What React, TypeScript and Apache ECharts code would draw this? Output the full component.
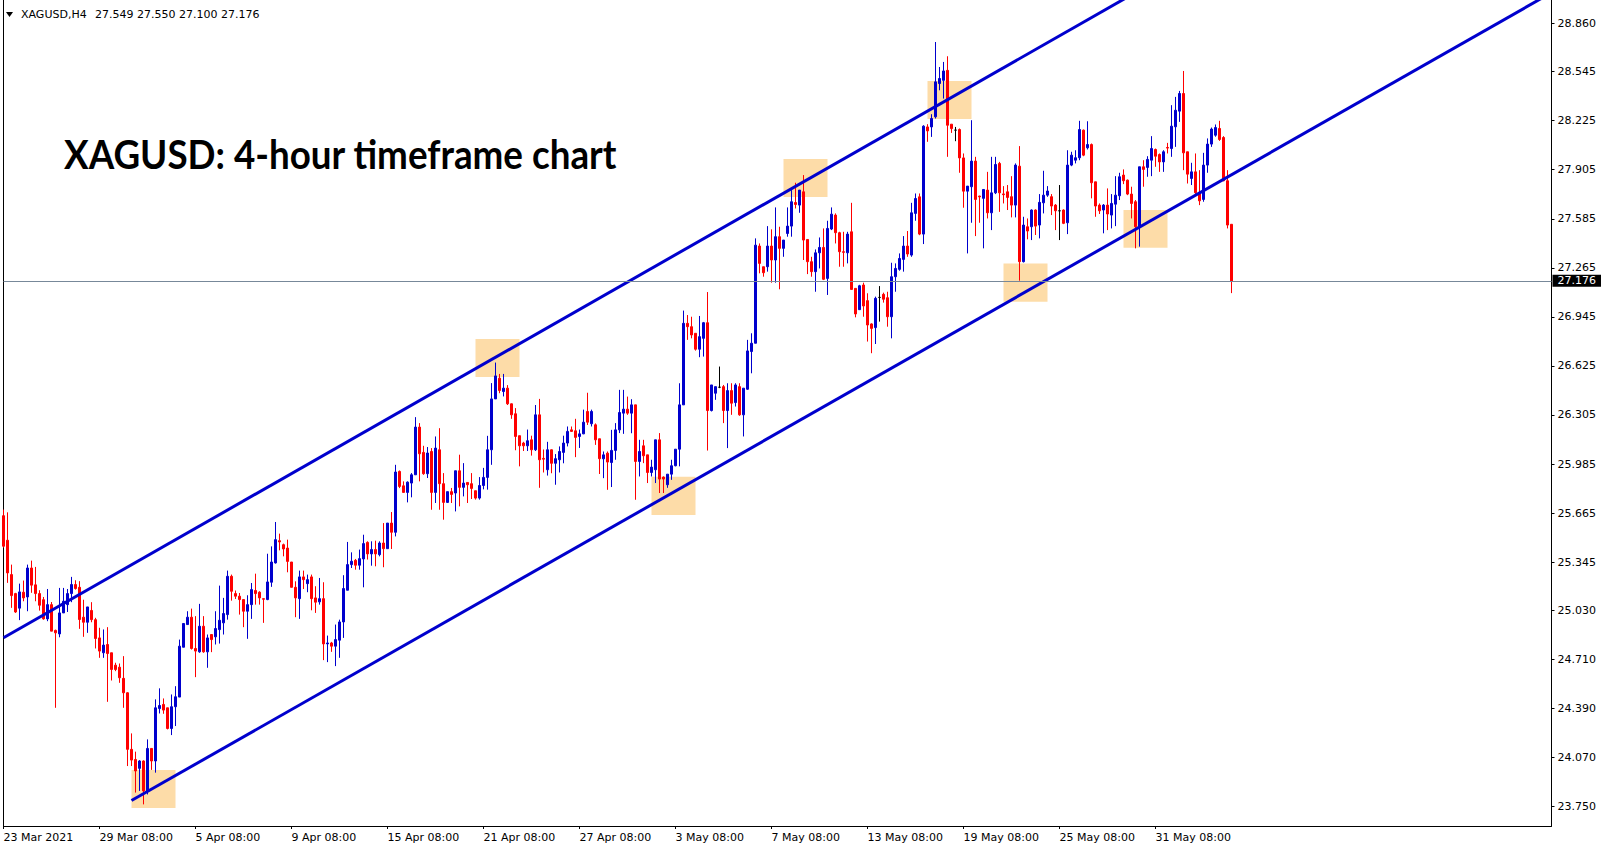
import React, { useEffect, useRef } from 'react';
import * as echarts from 'echarts';

const symbol = 'XAGUSD';
const timeframe = 'H4';
const chartTitle = 'XAGUSD: 4-hour timeframe chart';

// x-axis tick labels, one every 24 four-hour bars
const xLabels = [
  '23 Mar 2021', '29 Mar 08:00', '5 Apr 08:00', '9 Apr 08:00', '15 Apr 08:00',
  '21 Apr 08:00', '27 Apr 08:00', '3 May 08:00', '7 May 08:00', '13 May 08:00',
  '19 May 08:00', '25 May 08:00', '31 May 08:00',
];
const barsPerLabel = 24;
const totalSlots = 388;

// price-scale tick labels
const yTicks = [
  23.75, 24.07, 24.39, 24.71, 25.03, 25.345, 25.665, 25.985, 26.305,
  26.625, 26.945, 27.265, 27.585, 27.905, 28.225, 28.545, 28.86,
];
const yMin = 23.624;
const yMax = 29.012;

const open = [
  25.648, 25.488, 25.264, 25.14, 25.045, 25.149, 25.118, 25.307, 25.197, 25.14,
  25.1, 24.975, 25.068, 24.9, 24.877, 25.014, 25.068, 25.14, 25.199, 25.181,
  24.986, 24.953, 25.03, 24.97, 24.851, 24.754, 24.808, 24.754, 24.673, 24.66,
  24.587, 24.493, 24.124, 24.058, 24.0, 24.048, 23.853, 24.13, 24.048, 24.39,
  24.417, 24.395, 24.26, 24.402, 24.465, 24.79, 24.938, 24.986, 24.782, 24.76,
  24.927, 24.76, 24.873, 24.858, 24.905, 24.949, 25.003, 25.253, 25.14, 25.123,
  25.101, 25.025, 25.068, 25.16, 25.149, 25.107, 25.101, 25.214, 25.34, 25.485,
  25.459, 25.437, 25.346, 25.181, 25.107, 25.249, 25.205, 25.249, 25.112, 25.086,
  25.107, 24.812, 24.818, 24.797, 24.836, 24.955, 25.162, 25.329, 25.357, 25.325,
  25.366, 25.474, 25.399, 25.427, 25.394, 25.47, 25.433, 25.6, 25.54, 25.937,
  25.843, 25.8, 25.861, 25.915, 26.226, 26.061, 25.922, 26.067, 25.8, 26.078,
  25.857, 25.735, 25.805, 25.796, 25.941, 25.833, 25.865, 25.857, 25.811, 25.763,
  25.845, 25.898, 26.078, 26.41, 26.545, 26.458, 26.48, 26.378, 26.313, 26.17,
  26.122, 26.104, 26.143, 26.078, 26.306, 26.022, 25.948, 26.078, 25.99, 26.013,
  26.061, 26.122, 26.208, 26.202, 26.165, 26.182, 26.328, 26.248, 26.241, 26.15,
  26.019, 26.056, 25.995, 26.074, 26.208, 26.317, 26.343, 26.317, 26.371, 26.002,
  26.104, 26.045, 25.93, 25.948, 26.143, 25.9, 25.85, 25.919, 25.974, 26.082,
  26.371, 26.903, 26.881, 26.838, 26.734, 26.805, 26.907, 26.334, 26.447, 26.486,
  26.49, 26.334, 26.464, 26.386, 26.49, 26.306, 26.473, 26.719, 26.773, 27.407,
  27.272, 27.272, 27.407, 27.316, 27.468, 27.392, 27.489, 27.537, 27.691, 27.674,
  27.761, 27.45, 27.305, 27.24, 27.363, 27.398, 27.196, 27.518, 27.609, 27.494,
  27.37, 27.363, 27.5, 27.131, 26.992, 27.153, 27.051, 26.899, 26.875, 27.072,
  27.092, 27.07, 26.946, 27.207, 27.255, 27.32, 27.407, 27.348, 27.62, 27.728,
  27.485, 28.184, 28.184, 28.25, 28.467, 28.488, 28.553, 28.202, 28.163, 28.167,
  27.982, 27.765, 27.794, 27.961, 27.733, 27.718, 27.772, 27.624, 27.754, 27.946,
  27.747, 27.761, 27.729, 27.674, 27.928, 27.305, 27.533, 27.533, 27.642, 27.544,
  27.689, 27.739, 27.729, 27.674, 27.637, 27.642, 27.559, 27.935, 27.967, 27.983,
  28.163, 28.048, 28.069, 27.826, 27.674, 27.642, 27.674, 27.609, 27.68, 27.735,
  27.87, 27.837, 27.746, 27.696, 27.533, 27.924, 27.92, 27.967, 28.037, 28.004,
  27.956, 28.05, 28.043, 28.185, 28.287, 28.402, 28.022, 27.848, 27.891, 27.755,
  27.711, 27.935, 28.072, 28.13, 28.174, 28.115, 27.833, 27.549,
];
const high = [
  25.688, 25.67, 25.329, 25.145, 25.205, 25.225, 25.329, 25.355, 25.314, 25.162,
  25.118, 25.17, 25.085, 24.905, 25.177, 25.177, 25.17, 25.249, 25.227, 25.221,
  25.1, 25.053, 25.084, 24.982, 24.917, 24.906, 24.921, 24.754, 24.689, 24.684,
  24.732, 24.497, 24.228, 24.109, 24.054, 24.052, 24.189, 24.13, 24.45, 24.522,
  24.456, 24.395, 24.482, 24.536, 24.84, 24.945, 25.025, 25.042, 24.993, 25.073,
  24.993, 24.873, 24.873, 25.025, 25.192, 25.112, 25.29, 25.264, 25.16, 25.144,
  25.101, 25.129, 25.209, 25.27, 25.155, 25.107, 25.4, 25.448, 25.607, 25.531,
  25.466, 25.492, 25.346, 25.22, 25.29, 25.29, 25.264, 25.264, 25.188, 25.242,
  25.214, 24.866, 24.825, 24.938, 24.97, 25.26, 25.477, 25.409, 25.366, 25.427,
  25.524, 25.481, 25.481, 25.485, 25.481, 25.6, 25.6, 25.672, 25.98, 25.943,
  25.872, 25.872, 25.926, 26.291, 26.252, 26.104, 26.096, 26.089, 26.165, 26.219,
  25.926, 25.805, 25.829, 25.941, 26.046, 25.991, 25.865, 25.926, 25.811, 25.9,
  25.96, 26.169, 26.513, 26.647, 26.573, 26.573, 26.5, 26.38, 26.35, 26.17,
  26.13, 26.21, 26.17, 26.37, 26.41, 26.08, 26.13, 26.08, 26.05, 26.1,
  26.17, 26.23, 26.23, 26.28, 26.21, 26.34, 26.45, 26.34, 26.25, 26.15,
  26.067, 26.067, 26.208, 26.252, 26.469, 26.469, 26.425, 26.408, 26.371, 26.143,
  26.143, 26.045, 26.013, 26.143, 26.187, 25.904, 25.919, 26.013, 26.082, 26.512,
  26.986, 26.957, 26.946, 26.838, 26.951, 26.912, 27.107, 26.501, 26.49, 26.621,
  26.501, 26.512, 26.512, 26.512, 26.512, 26.48, 26.795, 26.838, 27.457, 27.424,
  27.272, 27.537, 27.516, 27.659, 27.533, 27.446, 27.659, 27.772, 27.82, 27.772,
  27.87, 27.45, 27.337, 27.385, 27.463, 27.522, 27.572, 27.659, 27.62, 27.5,
  27.5, 27.5, 27.689, 27.131, 27.154, 27.168, 27.099, 26.903, 27.077, 27.146,
  27.103, 27.109, 27.298, 27.294, 27.359, 27.472, 27.505, 27.689, 27.75, 27.75,
  28.195, 28.202, 28.267, 28.738, 28.575, 28.608, 28.645, 28.202, 28.184, 28.174,
  28.011, 27.798, 28.228, 27.989, 27.735, 27.776, 27.891, 27.989, 27.989, 27.956,
  27.798, 27.805, 27.863, 27.946, 28.059, 27.598, 27.587, 27.646, 27.646, 27.746,
  27.898, 27.798, 27.746, 27.681, 27.805, 27.646, 28.032, 28.022, 28.032, 28.224,
  28.167, 28.221, 28.076, 27.826, 27.685, 27.681, 27.783, 27.746, 27.863, 27.885,
  27.907, 27.841, 27.794, 27.707, 27.924, 27.967, 27.993, 28.124, 28.043, 28.011,
  28.032, 28.08, 28.326, 28.38, 28.419, 28.549, 28.022, 27.95, 28.011, 27.902,
  28.015, 28.109, 28.18, 28.2, 28.224, 28.124, 27.902, 27.55,
];
const low = [
  25.44, 25.21, 25.047, 25.014, 24.967, 25.09, 25.025, 25.145, 25.09, 25.029,
  24.97, 24.96, 24.895, 24.395, 24.855, 25.014, 25.02, 25.084, 25.166, 24.91,
  24.858, 24.884, 24.953, 24.782, 24.721, 24.721, 24.434, 24.573, 24.634, 24.558,
  24.395, 24.015, 24.015, 23.842, 23.853, 23.765, 23.83, 23.99, 23.972, 24.358,
  24.356, 24.254, 24.217, 24.276, 24.465, 24.79, 24.938, 24.775, 24.595, 24.754,
  24.754, 24.656, 24.758, 24.808, 24.814, 24.873, 24.97, 25.094, 25.105, 25.003,
  24.921, 24.845, 24.975, 25.068, 25.068, 24.949, 25.097, 25.184, 25.336, 25.422,
  25.383, 25.279, 25.181, 24.986, 24.975, 25.17, 25.149, 25.031, 25.014, 25.068,
  24.706, 24.693, 24.76, 24.667, 24.721, 24.851, 25.162, 25.307, 25.296, 25.296,
  25.181, 25.362, 25.322, 25.318, 25.383, 25.312, 25.433, 25.431, 25.513, 25.828,
  25.8, 25.735, 25.768, 25.915, 25.872, 25.915, 25.894, 25.687, 25.731, 25.687,
  25.622, 25.731, 25.731, 25.676, 25.709, 25.774, 25.731, 25.757, 25.753, 25.753,
  25.82, 25.818, 25.98, 26.41, 26.447, 26.426, 26.37, 26.28, 26.075, 25.97,
  26.07, 26.07, 26.04, 26.07, 25.83, 25.93, 25.91, 25.925, 25.85, 25.93,
  25.99, 26.1, 26.195, 26.03, 26.09, 26.18, 26.24, 26.23, 26.11, 25.92,
  25.893, 25.817, 25.835, 26.013, 26.187, 26.182, 26.306, 26.186, 25.752, 25.904,
  25.991, 25.861, 25.904, 25.861, 25.796, 25.796, 25.83, 25.882, 25.97, 25.97,
  26.37, 26.795, 26.805, 26.725, 26.682, 26.686, 26.073, 26.328, 26.404, 26.48,
  26.252, 26.089, 26.306, 26.36, 26.3, 26.165, 26.469, 26.577, 26.773, 27.229,
  27.207, 27.24, 27.168, 27.168, 27.125, 27.337, 27.468, 27.468, 27.652, 27.624,
  27.316, 27.224, 27.207, 27.109, 27.261, 27.185, 27.088, 27.511, 27.424, 27.272,
  27.272, 27.294, 27.124, 26.942, 26.99, 26.946, 26.784, 26.708, 26.768, 26.914,
  27.038, 26.881, 26.805, 27.109, 27.246, 27.24, 27.337, 27.337, 27.572, 27.478,
  27.42, 28.087, 28.119, 28.239, 28.423, 28.369, 27.989, 28.145, 28.091, 27.885,
  27.657, 27.359, 27.559, 27.472, 27.559, 27.392, 27.587, 27.511, 27.746, 27.63,
  27.685, 27.642, 27.594, 27.594, 27.181, 27.3, 27.451, 27.446, 27.479, 27.457,
  27.62, 27.728, 27.609, 27.511, 27.446, 27.55, 27.485, 27.928, 27.946, 27.967,
  27.993, 28.037, 27.718, 27.598, 27.616, 27.49, 27.511, 27.522, 27.537, 27.707,
  27.811, 27.739, 27.587, 27.392, 27.403, 27.794, 27.859, 27.863, 27.924, 27.891,
  27.891, 28.011, 27.989, 28.054, 28.217, 27.902, 27.815, 27.805, 27.746, 27.674,
  27.696, 27.885, 28.054, 28.12, 28.093, 27.83, 27.522, 27.1,
];
const close = [
  25.449, 25.275, 25.127, 25.02, 25.151, 25.112, 25.307, 25.195, 25.14, 25.064,
  24.975, 25.068, 24.895, 24.884, 25.014, 25.09, 25.14, 25.199, 25.173, 24.971,
  24.953, 25.053, 24.97, 24.847, 24.765, 24.804, 24.749, 24.645, 24.645, 24.591,
  24.493, 24.124, 24.054, 23.983, 24.048, 23.853, 24.13, 24.048, 24.395, 24.41,
  24.38, 24.26, 24.402, 24.467, 24.797, 24.945, 24.986, 24.782, 24.765, 24.927,
  24.76, 24.851, 24.84, 24.912, 24.966, 25.01, 25.253, 25.155, 25.123, 25.101,
  25.025, 25.068, 25.166, 25.14, 25.112, 25.103, 25.216, 25.346, 25.492, 25.477,
  25.431, 25.35, 25.181, 25.112, 25.249, 25.231, 25.231, 25.107, 25.084, 25.107,
  24.812, 24.818, 24.797, 24.84, 24.955, 25.173, 25.329, 25.351, 25.325, 25.368,
  25.466, 25.399, 25.427, 25.399, 25.47, 25.433, 25.6, 25.54, 25.933, 25.839,
  25.8, 25.867, 25.915, 26.226, 26.052, 25.922, 26.057, 25.8, 26.089, 25.857,
  25.735, 25.805, 25.787, 25.941, 25.833, 25.861, 25.85, 25.826, 25.763, 25.845,
  25.898, 26.078, 26.41, 26.56, 26.465, 26.48, 26.378, 26.306, 26.165, 26.104,
  26.104, 26.137, 26.078, 26.306, 26.013, 26.017, 26.078, 25.99, 26.02, 26.067,
  26.122, 26.198, 26.198, 26.159, 26.182, 26.258, 26.258, 26.328, 26.143, 26.02,
  26.045, 25.998, 26.074, 26.208, 26.321, 26.343, 26.317, 26.371, 26.002, 26.067,
  26.039, 25.93, 25.965, 26.143, 25.887, 25.887, 25.919, 25.974, 26.082, 26.371,
  26.903, 26.881, 26.827, 26.734, 26.816, 26.907, 26.334, 26.501, 26.49, 26.486,
  26.334, 26.464, 26.382, 26.501, 26.306, 26.48, 26.723, 26.773, 27.413, 27.294,
  27.233, 27.407, 27.316, 27.468, 27.392, 27.446, 27.537, 27.696, 27.678, 27.772,
  27.446, 27.305, 27.24, 27.363, 27.398, 27.19, 27.522, 27.615, 27.494, 27.37,
  27.366, 27.485, 27.124, 26.964, 27.148, 27.016, 26.892, 26.87, 27.066, 27.072,
  27.06, 26.946, 27.207, 27.261, 27.326, 27.407, 27.355, 27.624, 27.717, 27.485,
  28.189, 28.158, 28.239, 28.478, 28.5, 28.549, 28.195, 28.173, 28.163, 27.982,
  27.765, 27.798, 27.961, 27.711, 27.728, 27.776, 27.624, 27.754, 27.939, 27.754,
  27.742, 27.724, 27.674, 27.935, 27.305, 27.544, 27.505, 27.642, 27.537, 27.692,
  27.739, 27.766, 27.668, 27.637, 27.637, 27.555, 27.935, 28.0, 27.983, 28.167,
  28.0, 28.069, 27.82, 27.668, 27.637, 27.674, 27.616, 27.685, 27.739, 27.859,
  27.833, 27.746, 27.685, 27.533, 27.924, 27.907, 27.972, 28.043, 27.993, 27.956,
  28.022, 28.046, 28.189, 28.293, 28.402, 28.015, 27.876, 27.891, 27.755, 27.702,
  27.935, 28.072, 28.17, 28.18, 28.102, 27.833, 27.544, 27.176,
];

// channel trend lines: [bar index, price]
const upperChannel = [[0, 24.852], [290, 29.165]];
const lowerChannel = [[32, 23.79], [387, 29.06]];

// highlighted touch zones: [fromBar, topPrice, toBar, bottomPrice]
const zones = [
  [32, 23.989, 43, 23.741],
  [118, 26.801, 129, 26.553],
  [162, 25.902, 173, 25.652],
  [195, 27.975, 206, 27.727],
  [231, 28.484, 242, 28.236],
  [250, 27.294, 261, 27.044],
  [280, 27.642, 291, 27.396],
];

const bidPrice = 27.176;

const FONT = 'DejaVu Sans';
const BLUE = '#0000CD';
const RED = '#FF0000';

export default function App() {
  const ref = useRef<HTMLDivElement>(null);

  useEffect(() => {
    if (!ref.current) return;
    const chart = echarts.init(ref.current, undefined, { renderer: 'svg' });

    const categories = Array.from({ length: totalSlots }, (_, i) => String(i));
    const candles = open.map((o, i) => [o, close[i], low[i], high[i]]);
    const last = open.length - 1;
    const showLabel = (idx: number) =>
      idx % barsPerLabel === 0 && idx / barsPerLabel < xLabels.length;

    const option = {
      animation: false,
      backgroundColor: '#ffffff',
      grid: { left: 3.5, right: 55.5, top: 0, bottom: 24 },
      xAxis: {
        type: 'category',
        data: categories,
        boundaryGap: false,
        axisLine: { show: true, onZero: false, lineStyle: { color: '#000', width: 1 } },
        axisTick: {
          show: true,
          length: 3,
          interval: (idx: number) => showLabel(idx),
          lineStyle: { color: '#000' },
        },
        axisLabel: {
          interval: (idx: number) => showLabel(idx),
          formatter: (_v: string, idx: number) =>
            showLabel(idx) ? xLabels[idx / barsPerLabel] : '',
          align: 'left',
          color: '#000',
          fontFamily: FONT,
          fontSize: 11,
          margin: 6,
        },
        splitLine: { show: false },
      },
      yAxis: [
        {
          type: 'value',
          position: 'right',
          min: yMin,
          max: yMax,
          axisLine: { show: true, lineStyle: { color: '#000', width: 1 } },
          axisTick: {
            show: true,
            length: 3,
            customValues: yTicks,
            lineStyle: { color: '#000' },
          },
          axisLabel: {
            customValues: yTicks,
            formatter: (v: number) => v.toFixed(3),
            color: '#000',
            fontFamily: FONT,
            fontSize: 11,
            margin: 6,
          },
          splitLine: { show: false },
        },
        {
          type: 'value',
          position: 'left',
          min: yMin,
          max: yMax,
          axisLine: { show: true, lineStyle: { color: '#000', width: 1 } },
          axisTick: { show: false },
          axisLabel: { show: false },
          splitLine: { show: false },
        },
      ],
      series: [
        {
          type: 'candlestick',
          data: candles,
          barWidth: 2,
          itemStyle: {
            color: BLUE,
            color0: RED,
            borderColor: BLUE,
            borderColor0: RED,
            borderColorDoji: '#000000',
            borderWidth: 1,
          },
          silent: true,
          markArea: {
            silent: true,
            itemStyle: { color: '#FDDCA8', opacity: 1 },
            data: zones.map((z) => [
              { coord: [z[0], z[1]] },
              { coord: [z[2], z[3]] },
            ]),
          },
          markLine: {
            silent: true,
            symbol: ['none', 'none'],
            lineStyle: { color: '#778899', width: 1, type: 'solid' },
            label: {
              show: true,
              position: 'end',
              distance: 1,
              formatter: bidPrice.toFixed(3),
              backgroundColor: '#000',
              color: '#fff',
              fontFamily: FONT,
              fontSize: 11,
              padding: [1, 5, 0, 5],
            },
            data: [{ yAxis: bidPrice }],
          },
        },
        {
          type: 'line',
          data: upperChannel,
          symbol: 'none',
          clip: true,
          silent: true,
          lineStyle: { color: BLUE, width: 3 },
        },
        {
          type: 'line',
          data: lowerChannel,
          symbol: 'none',
          clip: true,
          silent: true,
          lineStyle: { color: BLUE, width: 3 },
        },
      ],
      graphic: [
        {
          type: 'polygon',
          shape: { points: [[6, 12], [13, 12], [9.5, 17]] },
          style: { fill: '#000' },
          silent: true,
        },
        {
          type: 'text',
          x: 21,
          y: 14,
          silent: true,
          style: {
            text: `${symbol},${timeframe}`,
            font: `11px "${FONT}"`,
            fill: '#000',
            verticalAlign: 'middle',
          },
        },
        {
          type: 'text',
          x: 95,
          y: 14,
          silent: true,
          style: {
            text: [open[last], high[last], low[last], close[last]]
              .map((v) => v.toFixed(3))
              .join(' '),
            font: `11px "${FONT}"`,
            fill: '#000',
            verticalAlign: 'middle',
          },
        },
        {
          type: 'text',
          x: 64,
          y: 153,
          scaleX: 0.897,
          silent: true,
          style: {
            text: chartTitle,
            font: 'bold 41px Lato',
            fill: '#000',
            verticalAlign: 'middle',
          },
        },
      ],
    };

    chart.setOption(option as any);
    return () => chart.dispose();
  }, []);

  return (
    <div
      ref={ref}
      style={{ position: 'fixed', left: 0, top: 0, width: 1607, height: 850, background: '#fff' }}
    />
  );
}
